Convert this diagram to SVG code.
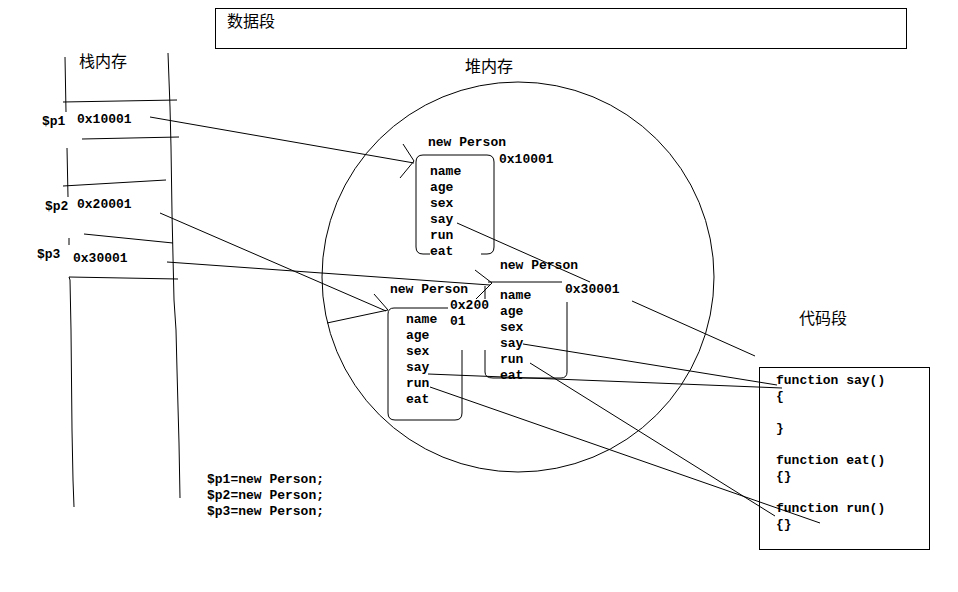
<svg xmlns="http://www.w3.org/2000/svg" width="958" height="592" viewBox="0 0 958 592">
<style>
.ln{stroke:#000;stroke-width:1;fill:none}
.m{font-family:"Liberation Mono","DejaVu Sans Mono",monospace;font-weight:bold;font-size:13px;fill:#000}
.c{font-family:"Noto Sans CJK SC","Noto Sans",sans-serif;font-size:16px;fill:#000}
</style>
<rect width="958" height="592" fill="#fff"/>
<g id="data-segment">
<rect class="ln" x="215.5" y="8.5" width="691" height="40"/>
<text class="c" x="227" y="27">数据段</text>
</g>
<g id="stack">
<text class="c" x="79" y="67">栈内存</text>
<polyline class="ln" points="65,57 66,112"/>
<polyline class="ln" points="67,148 68,197"/>
<polyline class="ln" points="69,238 69,245"/>
<polyline class="ln" points="69,277 70,280 71,330 72,430 73,480 74,507"/>
<polyline class="ln" points="168,53 170,107 171,147 172,213 173,257 174,300 176,330 177,370 178,407 179,443 180,498"/>
<line class="ln" x1="63" y1="102" x2="177" y2="100"/>
<line class="ln" x1="82" y1="139" x2="179" y2="137"/>
<line class="ln" x1="63" y1="186" x2="166" y2="180"/>
<line class="ln" x1="84" y1="234" x2="173" y2="243"/>
<line class="ln" x1="69" y1="277" x2="178" y2="279"/>
<text class="m" x="42" y="125">$p1</text>
<text class="m" x="77" y="123">0x10001</text>
<text class="m" x="45" y="210">$p2</text>
<text class="m" x="77" y="208">0x20001</text>
<text class="m" x="37" y="258">$p3</text>
<text class="m" x="73" y="262">0x30001</text>
</g>
<g id="heap">
<text class="c" x="465" y="72">堆内存</text>
<ellipse class="ln" cx="518" cy="277" rx="196" ry="195"/>
</g>
<g id="person1">
<text class="m" x="428" y="146">new Person</text>
<path class="ln" d="M481,254 L487,254 Q494,254 494,247 L494,162 Q494,155 487,155 L423,155 Q416,155 416,162 L416,247 Q416,254 423,254 L430,254"/>
<text class="m" x="499" y="163">0x10001</text>
<text class="m" x="430" y="175">name</text>
<text class="m" x="430" y="191">age</text>
<text class="m" x="430" y="207">sex</text>
<text class="m" x="430" y="223">say</text>
<text class="m" x="430" y="239">run</text>
<text class="m" x="430" y="255">eat</text>
</g>
<g id="person3">
<text class="m" x="500" y="269">new Person</text>
<path class="ln" d="M488,282 L562,282"/>
<path class="ln" d="M567,302 L567,372 Q567,378 561,378 L493,378 Q485,378 485,372 L485,350"/>
<line class="ln" x1="485" y1="286" x2="485" y2="299"/>
<text class="m" x="565" y="293">0x30001</text>
<text class="m" x="500" y="299">name</text>
<text class="m" x="500" y="315">age</text>
<text class="m" x="500" y="331">sex</text>
<text class="m" x="500" y="347">say</text>
<text class="m" x="500" y="363">run</text>
<text class="m" x="500" y="379">eat</text>
</g>
<g id="person2">
<text class="m" x="390" y="293">new Person</text>
<path class="ln" d="M448,308 L394,308 Q388,308 388,314 L388,413 Q388,420 395,420 L455,420 Q462,420 462,413 L462,350"/>
<text class="m" x="450" y="309">0x200</text>
<text class="m" x="450" y="325">01</text>
<text class="m" x="406" y="323">name</text>
<text class="m" x="406" y="339">age</text>
<text class="m" x="406" y="355">sex</text>
<text class="m" x="406" y="371">say</text>
<text class="m" x="406" y="387">run</text>
<text class="m" x="406" y="403">eat</text>
</g>
<g id="code-segment">
<text class="c" x="799" y="324">代码段</text>
<rect class="ln" x="759.5" y="367.5" width="170" height="182"/>
<text class="m" x="776" y="384">function say()</text>
<text class="m" x="776" y="400">{</text>
<text class="m" x="776" y="432">}</text>
<text class="m" x="776" y="464">function eat()</text>
<text class="m" x="776" y="480">{}</text>
<text class="m" x="776" y="512">function run()</text>
<text class="m" x="776" y="528">{}</text>
</g>
<g id="code-text">
<text class="m" x="207" y="483">$p1=new Person;</text>
<text class="m" x="207" y="499">$p2=new Person;</text>
<text class="m" x="207" y="515">$p3=new Person;</text>
</g>
<g id="connectors">
<line class="ln" x1="150" y1="117" x2="414" y2="163"/>
<polyline class="ln" points="403,144 414,161 400,178"/>
<line class="ln" x1="160" y1="213" x2="386" y2="311"/>
<polyline class="ln" points="374,294 388,310 327,323"/>
<line class="ln" x1="167" y1="262" x2="490" y2="285"/>
<polyline class="ln" points="475,270 492,283 476,299"/>
<line class="ln" x1="457" y1="223" x2="590" y2="282"/>
<line class="ln" x1="632" y1="301" x2="755" y2="356"/>
<line class="ln" x1="523" y1="344" x2="777" y2="385"/>
<line class="ln" x1="428" y1="374" x2="782" y2="388"/>
<line class="ln" x1="530" y1="363" x2="775" y2="516"/>
<line class="ln" x1="430" y1="387" x2="820" y2="523"/>
</g>
</svg>
